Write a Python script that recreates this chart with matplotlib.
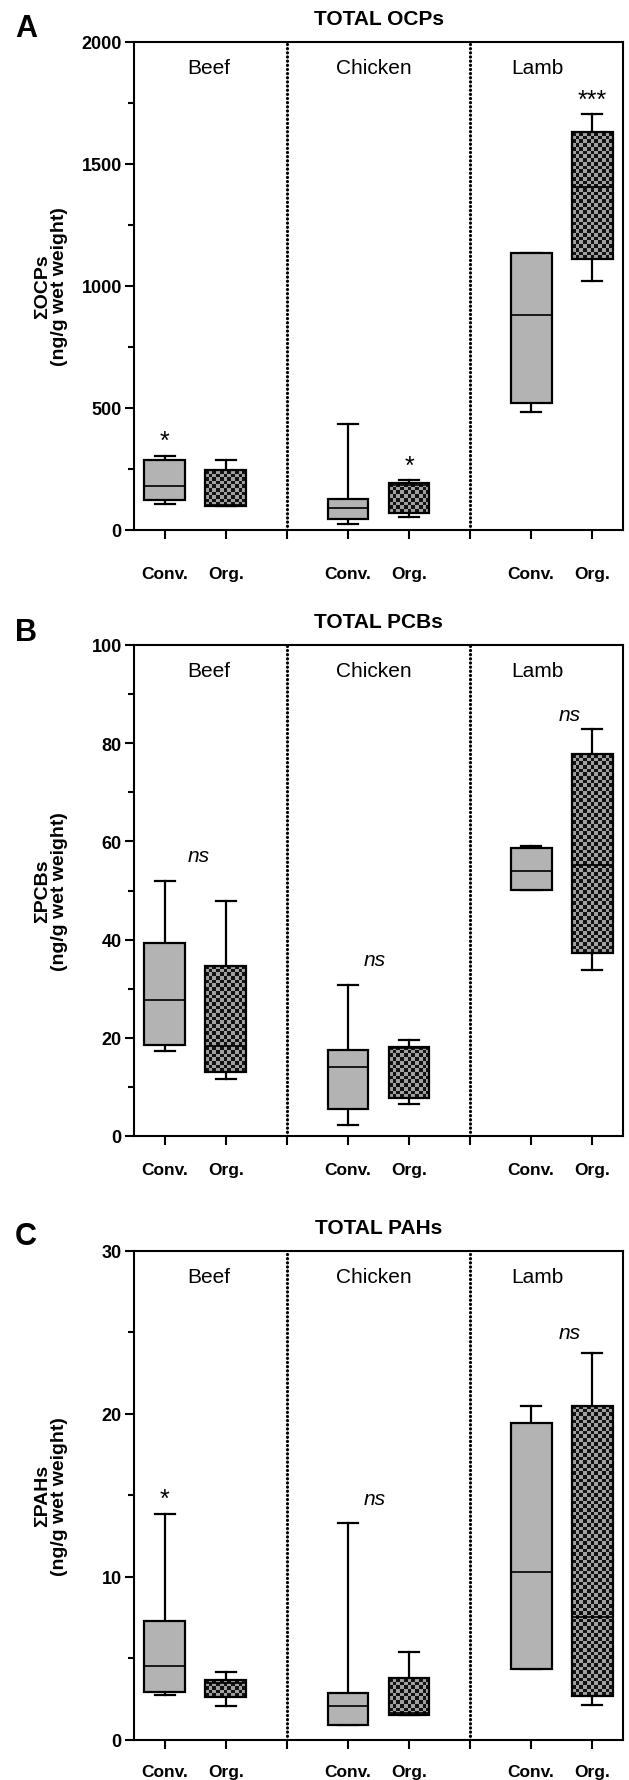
import matplotlib
matplotlib.use('Agg')
import matplotlib.pyplot as plt
import numpy as np
from matplotlib.ticker import MultipleLocator, FixedLocator
from matplotlib.colors import ListedColormap

plt.rcParams['font.family'] = ['Liberation Sans', 'DejaVu Sans']

# ---------------- data ----------------
groups = ['Beef', 'Chicken', 'Lamb']
tick_labels = ['Conv.', 'Org.', '', 'Conv.', 'Org.', '', 'Conv.', 'Org.']
treatment = ['Conv.', 'Org.', 'Conv.', 'Org.', 'Conv.', 'Org.']

# order of boxes: Beef Conv, Beef Org, Chicken Conv, Chicken Org, Lamb Conv, Lamb Org
ocp_whislo = [104, 98, 22, 51, 483, 1018]
ocp_q1 = [122, 98, 44, 69, 520, 1109]
ocp_med = [179, 100, 89, 185, 879, 1404]
ocp_q3 = [286, 245, 127, 190, 1134, 1629]
ocp_whishi = [303, 286, 432, 205, 1134, 1704]

pcb_whislo = [17.4, 11.6, 2.2, 6.5, 50.1, 33.8]
pcb_q1 = [18.5, 13.0, 5.5, 7.7, 50.1, 37.3]
pcb_med = [27.7, 18.3, 14.1, 17.9, 54.0, 55.2]
pcb_q3 = [39.4, 34.6, 17.5, 18.1, 58.6, 77.8]
pcb_whishi = [52.0, 47.8, 30.7, 19.5, 59.0, 82.9]

pah_whislo = [2.75, 2.07, 0.92, 1.53, 4.33, 2.14]
pah_q1 = [2.94, 2.60, 0.92, 1.53, 4.33, 2.68]
pah_med = [4.53, 3.48, 2.07, 1.63, 10.27, 7.5]
pah_q3 = [7.27, 3.65, 2.87, 3.77, 19.4, 20.5]
pah_whishi = [13.87, 4.14, 13.3, 5.4, 20.5, 23.7]

# significance annotations: (text, x, y)
ocp_sig = [('*', 1.0, 366), ('*', 5.0, 261), ('***', 8.0, 1763)]
pcb_sig = [('ns', 1.56, 57.2), ('ns', 4.43, 36.0), ('ns', 7.63, 85.9)]
pah_sig = [('*', 1.0, 14.8), ('ns', 4.43, 14.8), ('ns', 7.63, 25.0)]

titles = ['TOTAL OCPs', 'TOTAL PCBs', 'TOTAL PAHs']
ylabels = ['ΣOCPs\n(ng/g wet weight)', 'ΣPCBs\n(ng/g wet weight)', 'ΣPAHs\n(ng/g wet weight)']
letters = ['A', 'B', 'C']
ymaxes = [2000, 100, 30]
major_steps = [500, 20, 10]
minor_steps = [250, 10, 5]

# ---------------- layout ----------------
W, H = 629, 1781
fig = plt.figure(figsize=(W / 100, H / 100), dpi=100)
ax_left, ax_right = 134.3, 622.7
panels_px = [(42.7, 530.7), (646.0, 1137.0), (1251.7, 1740.7)]
letter_y = [29, 633, 1237]
xlabel_pads = [19.3, 12.1, 11.0]

positions = [1, 2, 4, 5, 7, 8]
box_w = 0.67
group_x = [1.72, 4.43, 7.1]
conv_color = '#b3b3b3'
chk_cmap = ListedColormap(['#a0a0a0', '#121212'])
LW = 1.6

datasets = [
    (ocp_whislo, ocp_q1, ocp_med, ocp_q3, ocp_whishi, ocp_sig),
    (pcb_whislo, pcb_q1, pcb_med, pcb_q3, pcb_whishi, pcb_sig),
    (pah_whislo, pah_q1, pah_med, pah_q3, pah_whishi, pah_sig),
]

for k, (top, bot) in enumerate(panels_px):
    wlo, q1, med, q3, whi, sig = datasets[k]
    ax = fig.add_axes([ax_left / W, 1 - bot / H, (ax_right - ax_left) / W, (bot - top) / H])
    ymax = ymaxes[k]
    ax_h_px = bot - top
    ax_w_px = ax_right - ax_left

    stats = []
    for i in range(6):
        stats.append(dict(whislo=wlo[i], q1=q1[i], med=med[i], q3=q3[i], whishi=whi[i], fliers=[]))
    bp = ax.bxp(stats, positions=positions, widths=box_w, patch_artist=True, showfliers=False,
                boxprops=dict(linewidth=LW, edgecolor='black', zorder=3),
                medianprops=dict(color='black', linewidth=1.2, zorder=4),
                whiskerprops=dict(color='black', linewidth=LW),
                capprops=dict(color='black', linewidth=LW), manage_ticks=False)
    for i, patch in enumerate(bp['boxes']):
        if treatment[i] == 'Conv.':
            patch.set_facecolor(conv_color)
        else:
            patch.set_facecolor('none')
            x0 = positions[i] - box_w / 2
            x1 = positions[i] + box_w / 2
            wpx = box_w / 8.0 * ax_w_px
            hpx = (q3[i] - q1[i]) / ymax * ax_h_px
            nc = max(1, int(round(wpx / 3.7)))
            nr = max(1, int(round(hpx / 3.7)))
            rr, cc = np.mgrid[0:nr, 0:nc]
            chk = ((rr + cc + 1) % 2).astype(float)
            ax.imshow(chk, cmap=chk_cmap, extent=(x0, x1, q1[i], q3[i]), aspect='auto',
                      interpolation='nearest', zorder=2, origin='upper', vmin=0, vmax=1)

    for xd in [3, 6]:
        ax.axvline(xd, color='black', linewidth=2.3, linestyle=(0, (0.05, 1.25)),
                   dash_capstyle='round', zorder=1)

    ax.set_xlim(0.5, 8.5)
    ax.set_ylim(0, ymax)
    ax.xaxis.set_major_locator(FixedLocator([1, 2, 3, 4, 5, 6, 7, 8]))
    ax.set_xticklabels(tick_labels, fontsize=12.5, fontweight='bold')
    ax.yaxis.set_major_locator(MultipleLocator(major_steps[k]))
    ax.yaxis.set_minor_locator(MultipleLocator(minor_steps[k]))
    for lab in ax.get_yticklabels():
        lab.set_fontweight('bold')
        lab.set_fontsize(13)
    ax.tick_params(axis='x', which='major', direction='out', length=6.5, width=1.5,
                   pad=xlabel_pads[k])
    ax.tick_params(axis='y', which='major', direction='out', length=6.5, width=1.5, pad=2.5,
                   labelsize=13)
    ax.tick_params(axis='y', which='minor', direction='out', length=4, width=1.5)
    for sp in ax.spines.values():
        sp.set_linewidth(1.5)

    for g, gx in zip(groups, group_x):
        ax.text(gx, 0.948, g, transform=ax.get_xaxis_transform(), ha='center', va='center',
                fontsize=15)
    for txt, sx, sy in sig:
        if txt == 'ns':
            ax.text(sx, sy, txt, ha='center', va='center', fontsize=15, fontstyle='italic')
        else:
            ax.text(sx, sy, txt, ha='center', va='center', fontsize=18)

    ax.text(0.5, 1 + 23 / ax_h_px, titles[k], transform=ax.transAxes, ha='center', va='center',
            fontsize=15, fontweight='bold')
    fig.text(51 / W, 1 - (top + bot) / 2 / H, ylabels[k], rotation=90, ha='center', va='center',
             fontsize=14, fontweight='bold', multialignment='center', linespacing=0.95)
    fig.text(26 / W, 1 - letter_y[k] / H, letters[k], ha='center', va='center', fontsize=22,
             fontweight='bold')

fig.savefig('out.png', dpi=100)
